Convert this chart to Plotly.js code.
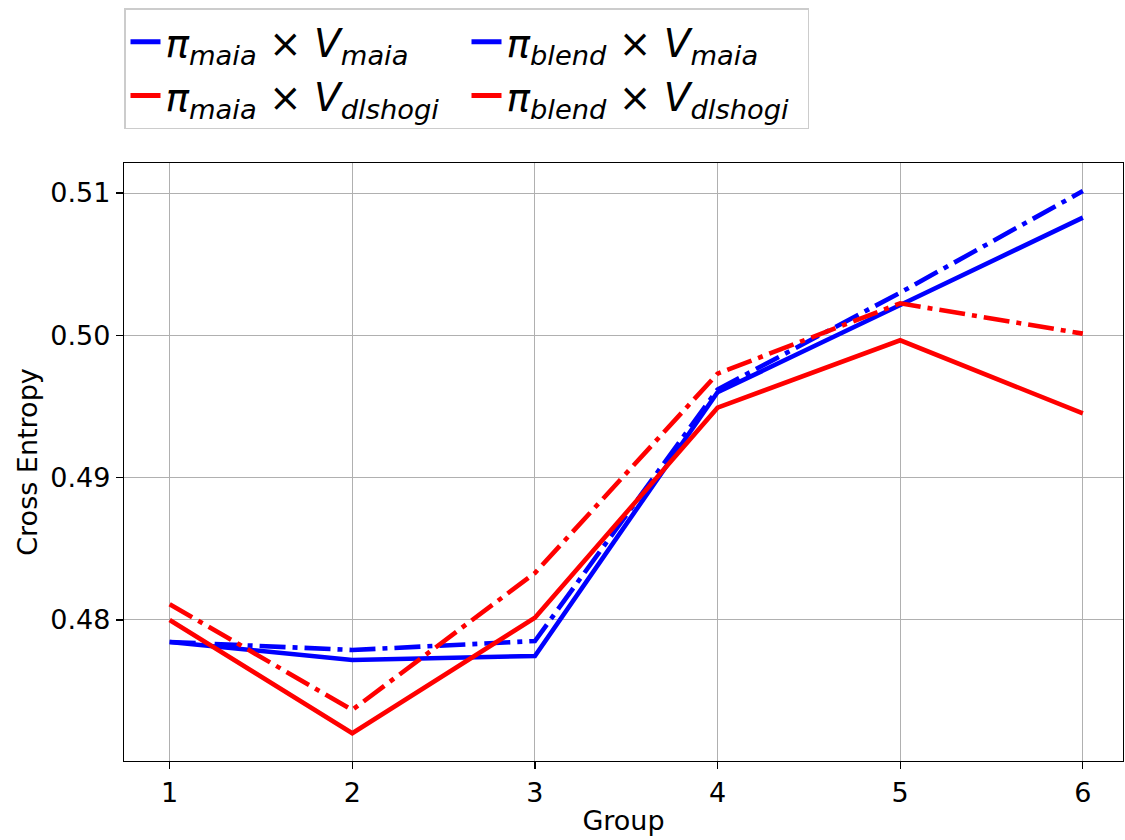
<!DOCTYPE html>
<html><head><meta charset="utf-8">
<script src="https://cdn.plot.ly/plotly-3.0.1.min.js"></script>
<style>html,body{margin:0;padding:0;background:#fff;overflow:hidden}</style>
</head><body><div id="chart" style="width:1125px;height:840px"></div>
<script>
const groups = [1, 2, 3, 4, 5, 6];
const maiaPolicyMaiaValue = [0.47845, 0.47719, 0.47747, 0.49600, 0.50213, 0.50827];
const blendPolicyMaiaValue = [0.47845, 0.47789, 0.47852, 0.49620, 0.50300, 0.51014];
const maiaPolicyDlshogiValue = [0.48000, 0.47204, 0.48016, 0.49492, 0.49965, 0.49452];
const blendPolicyDlshogiValue = [0.48110, 0.47368, 0.48330, 0.49731, 0.50225, 0.50012];
const yTicks = [0.48, 0.49, 0.50, 0.51];
const names = [
  '<i>π</i><sub><i>maia</i></sub> × <i>V</i><sub><i>maia</i></sub>',
  '<i>π</i><sub><i>blend</i></sub> × <i>V</i><sub><i>maia</i></sub>',
  '<i>π</i><sub><i>maia</i></sub> × <i>V</i><sub><i>dlshogi</i></sub>',
  '<i>π</i><sub><i>blend</i></sub> × <i>V</i><sub><i>dlshogi</i></sub>'
];
const series = [maiaPolicyMaiaValue, blendPolicyMaiaValue, maiaPolicyDlshogiValue, blendPolicyDlshogiValue];
const colors = ['#0000ff', '#0000ff', '#ff0000', '#ff0000'];
const dashes = ['solid', '26px,7px,5px,7px', 'solid', '26px,7px,5px,7px'];
const traces = [];
series.forEach((s, i) => {
  traces.push({x: groups, y: s, mode: 'lines', showlegend: false, hoverinfo: 'skip',
    line: {color: colors[i], width: 4.6, dash: dashes[i]}});
});
names.forEach((n, i) => {
  traces.push({x: [null], y: [null], mode: 'lines', name: n,
    line: {color: colors[i], width: 5, dash: 'solid'}});
});
const layout = {
  width: 1125, height: 840,
  margin: {l: 124, r: 2, t: 163, b: 79, autoexpand: false},
  paper_bgcolor: '#fff', plot_bgcolor: '#fff',
  font: {family: 'DejaVu Sans', color: '#000'},
  xaxis: {range: [0.75, 6.22], tickvals: groups, ticktext: groups.map(String),
    showgrid: true, gridcolor: '#b0b0b0', gridwidth: 1, zeroline: false,
    showline: true, mirror: true, linecolor: '#000', linewidth: 1.2,
    ticks: 'outside', ticklen: 7, tickcolor: '#000', tickwidth: 1.2,
    tickfont: {size: 27}, title: {text: 'Group', font: {size: 27}, standoff: 4}},
  yaxis: {range: [0.47009, 0.51211], tickvals: yTicks, ticktext: yTicks.map(v => v.toFixed(2)),
    showgrid: true, gridcolor: '#b0b0b0', gridwidth: 1, zeroline: false,
    showline: true, mirror: true, linecolor: '#000', linewidth: 1.2,
    ticks: 'outside', ticklen: 7, tickcolor: '#000', tickwidth: 1.2,
    tickfont: {size: 27}, title: {text: 'Cross Entropy', font: {size: 27}, standoff: 4}},
  legend: {orientation: 'h', x: 0, xref: 'paper', xanchor: 'left', y: 0.99, yref: 'container', yanchor: 'top',
    entrywidth: 296, entrywidthmode: 'pixels',
    bordercolor: '#cccccc', borderwidth: 1.5, bgcolor: '#fff',
    font: {size: 39}, itemwidth: 30, tracegroupgap: 0},
  showlegend: true
};
Plotly.newPlot('chart', traces, layout, {displayModeBar: false, staticPlot: true});
</script></body></html>
